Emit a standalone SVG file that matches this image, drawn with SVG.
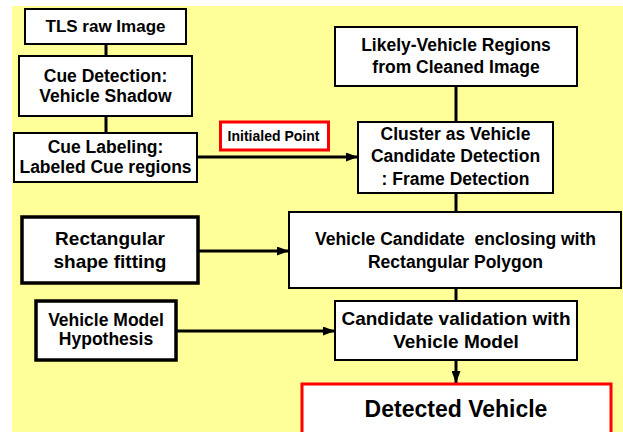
<svg xmlns="http://www.w3.org/2000/svg" width="623" height="432" viewBox="0 0 623 432">
<style>
.box{fill:#fff;stroke:#000;stroke-width:2}
.thick{fill:#fff;stroke:#000;stroke-width:3.5}
.red{fill:#fff;stroke:#f00;stroke-width:3}
.t{font-family:"Liberation Sans",Arial,sans-serif;font-weight:bold;fill:#000;text-anchor:middle}
.c{stroke:#000;stroke-width:3;fill:none}
</style>
<defs>
<marker id="ah" markerWidth="12" markerHeight="9" refX="12" refY="4.5" orient="auto" markerUnits="userSpaceOnUse">
<path d="M0,0 L12,4.5 L0,9 Z" fill="#000"/>
</marker>
</defs>
<rect x="0" y="0" width="623" height="432" fill="#fff"/>
<rect x="12" y="6" width="611" height="426" fill="#FFFF99"/>
<g id="connectors">
<line class="c" x1="106" y1="44" x2="106" y2="56"/>
<line class="c" x1="106" y1="116" x2="106" y2="133"/>
<line class="c" x1="197" y1="157" x2="358" y2="157" marker-end="url(#ah)"/>
<line class="c" x1="456" y1="86" x2="456" y2="122"/>
<line class="c" x1="456" y1="193" x2="456" y2="211"/>
<line class="c" x1="198" y1="251" x2="289" y2="251" marker-end="url(#ah)"/>
<line class="c" x1="456" y1="288" x2="456" y2="301"/>
<line class="c" x1="176" y1="331" x2="335" y2="331" marker-end="url(#ah)"/>
<line class="c" x1="456" y1="360" x2="456" y2="383" marker-end="url(#ah)"/>
</g>
<g id="tls">
<rect class="box" x="25" y="9" width="161" height="35"/>
<text class="t" x="105.5" y="32" font-size="17">TLS raw Image</text>
</g>
<g id="cue-detection">
<rect class="box" x="19" y="56" width="173" height="60"/>
<text class="t" x="105.5" y="82" font-size="17.5">Cue Detection:</text>
<text class="t" x="105.5" y="102" font-size="17.5">Vehicle Shadow</text>
</g>
<g id="cue-labeling">
<rect class="box" x="14" y="133" width="183" height="49"/>
<text class="t" x="105.5" y="152.5" font-size="17.5">Cue Labeling:</text>
<text class="t" x="105.5" y="172.5" font-size="17.5">Labeled Cue regions</text>
</g>
<g id="initialed-point">
<rect class="red" x="220.5" y="122" width="108" height="28"/>
<text class="t" x="273.5" y="141" font-size="14">Initialed Point</text>
</g>
<g id="likely">
<rect class="box" x="335" y="27" width="242" height="59"/>
<text class="t" x="456" y="51" font-size="17.5">Likely-Vehicle Regions</text>
<text class="t" x="456" y="73" font-size="17.5">from Cleaned Image</text>
</g>
<g id="cluster">
<rect class="box" x="358" y="122" width="195" height="71"/>
<text class="t" x="455.5" y="140" font-size="17.5">Cluster as Vehicle</text>
<text class="t" x="455.5" y="162" font-size="17.5">Candidate Detection</text>
<text class="t" x="455.5" y="185" font-size="17.5">: Frame Detection</text>
</g>
<g id="rect-fit">
<rect class="thick" x="22" y="217" width="176" height="66"/>
<text class="t" x="110" y="245" font-size="19">Rectangular</text>
<text class="t" x="110" y="267.5" font-size="19">shape fitting</text>
</g>
<g id="vc-enclosing">
<rect class="box" x="289" y="212" width="332" height="76"/>
<text class="t" x="455.5" y="245" font-size="17.5" xml:space="preserve">Vehicle Candidate  enclosing with</text>
<text class="t" x="455.5" y="268" font-size="17.5">Rectangular Polygon</text>
</g>
<g id="vehicle-model">
<rect class="thick" x="36" y="301" width="140" height="59"/>
<text class="t" x="106" y="325.5" font-size="17.5">Vehicle Model</text>
<text class="t" x="106" y="345" font-size="17.5">Hypothesis</text>
</g>
<g id="validation">
<rect class="box" x="335" y="301" width="242" height="59"/>
<text class="t" x="456" y="324.5" font-size="19">Candidate validation with</text>
<text class="t" x="456" y="347.5" font-size="19">Vehicle Model</text>
</g>
<g id="detected">
<rect class="red" x="302" y="384" width="309" height="60"/>
<text class="t" x="456" y="417" font-size="23">Detected Vehicle</text>
</g>
</svg>
